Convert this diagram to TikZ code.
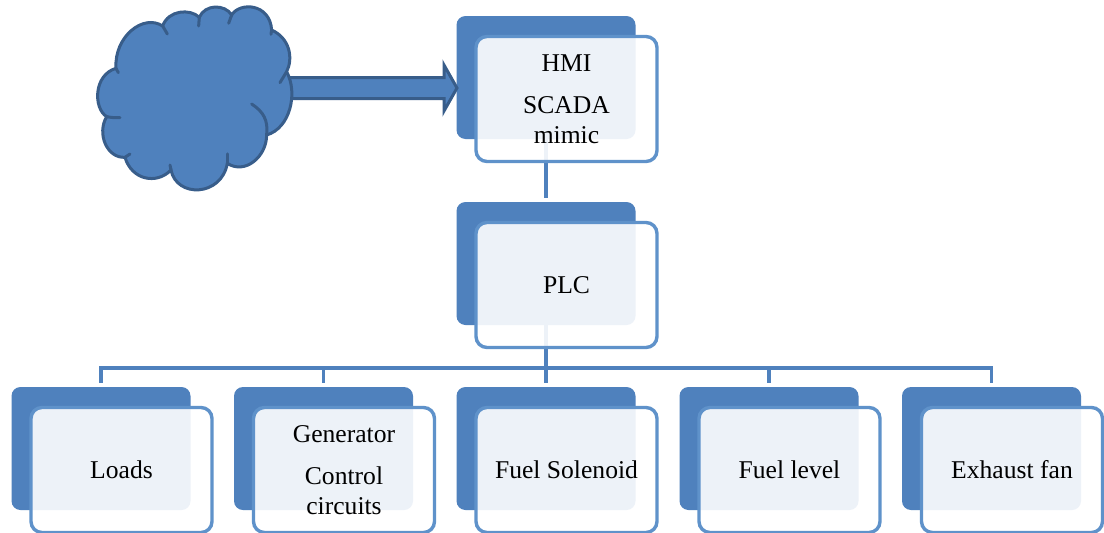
\documentclass[tikz,border=0pt]{standalone}
\usepackage{fontspec}
\setmainfont{Liberation Serif}
\definecolor{boxblue}{HTML}{4F81BD}
\definecolor{edgeblue}{HTML}{385D8A}
\definecolor{frameblue}{HTML}{5F92CA}
\begin{document}
\begin{tikzpicture}[x=1pt,y=-1pt]
\tikzset{backbox/.style={ %
		rectangle,
		rounded corners=9pt,
		fill=boxblue,
		minimum width=179pt,
		minimum height=123pt
	},
	frontbox/.style={ %
		rectangle,
		rounded corners=11pt,
		draw=frameblue,
		line width=3.4pt,
		fill=white,
		fill opacity=0.9,
		text opacity=1,
		minimum width=181pt,
		minimum height=125pt,
		align=center,
		font=\fontsize{25.6}{30}\selectfont
	},
	treeline/.style={draw=boxblue,line width=3.3pt},
	blockarrow/.style={draw=edgeblue,fill=boxblue,line width=3pt,line join=miter},
	cloudline/.style={draw=edgeblue,line width=3pt,line cap=round}
}
\useasboundingbox (0,0) rectangle (1104,533);
\fill[white] (0,0) rectangle (1104,533);

\node[backbox] (hmi back) at (546,77.5) {};
\node[backbox] (plc back) at (546,263.5) {};
\foreach \leaf/\xpos in {loads/101,gen/323.5,fuelsol/546,fuellevel/769,exhaust/991.5}
	\node[backbox] (\leaf back) at (\xpos,448.5) {};

\coordinate (bus) at (546,368);
\draw[treeline,shorten >=4pt] (hmi back.south) -- (plc back.north);
\draw[treeline] (plc back.south) -- (bus);
\foreach \leaf in {loads,gen,fuelsol,fuellevel,exhaust}
	\draw[treeline,shorten >=4pt] (bus) -| (\leaf back.north);

\node[frontbox] (hmi front) at ([shift={(20.5,21.5)}]hmi back.center) {HMI\\[12pt]SCADA\\mimic};
\node[frontbox] (plc front) at ([shift={(20.5,21.5)}]plc back.center) {PLC};
\foreach \leaf/\txt in {loads/{Loads},gen/{Generator\\[12pt]Control\\circuits},fuelsol/{Fuel Solenoid},fuellevel/{Fuel level},exhaust/{Exhaust fan}}
	\node[frontbox] (\leaf front) at ([shift={(20.5,21.5)}]\leaf back.center) {\txt};

% block arrow
\coordinate (arrowtail) at (285,88);
\coordinate (arrowtip) at (457,88);
\draw[blockarrow] (arrowtail) ++(0,-10.5) -- (444,77.5) -- (444,65) -- (arrowtip)
	-- (444,111) -- (444,98.5) -- (285,98.5) -- cycle;

% cloud
\begin{scope}[shift={(90,0)},x=0.3333pt,y=-0.3333pt]
\draw[cloudline,fill=boxblue] (78,205) .. controls (72,110) and (160,40) .. (218,78)
	.. controls (235,30) and (300,25) .. (328,52)
	.. controls (345,12) and (405,12) .. (425,45)
	.. controls (450,5) and (540,10) .. (545,90)
	.. controls (600,115) and (610,175) .. (590,215)
	.. controls (625,280) and (600,385) .. (530,405)
	.. controls (530,470) and (465,525) .. (412,490)
	.. controls (395,590) and (260,595) .. (243,510)
	.. controls (200,555) and (125,540) .. (105,472)
	.. controls (50,475) and (20,400) .. (50,350)
	.. controls (10,325) and (10,225) .. (78,205) -- cycle;
\draw[cloudline] (218,78) -- (232,102);
\draw[cloudline] (328,52) -- (326,78);
\draw[cloudline] (425,45) -- (416,70);
\draw[cloudline] (545,90) -- (543,103);
\draw[cloudline] (590,215) -- (570,248);
\draw[cloudline] (530,405) .. controls (535,360) and (520,335) .. (485,312);
\draw[cloudline] (412,490) -- (412,462);
\draw[cloudline] (243,510) -- (240,495);
\draw[cloudline] (105,472) -- (120,462);
\draw[cloudline] (50,350) .. controls (60,352) and (75,354) .. (90,353);
\draw[cloudline] (78,205) -- (85,218);
\end{scope}
\end{tikzpicture}
\end{document}
